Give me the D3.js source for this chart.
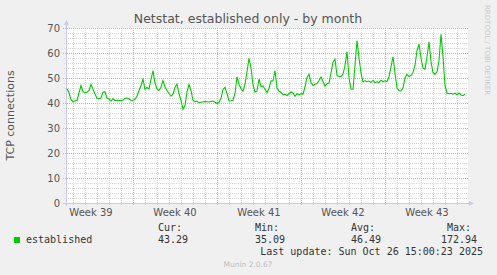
<!DOCTYPE html>
<html>
<head>
<meta charset="utf-8">
<script src="https://cdn.jsdelivr.net/npm/d3@7"></script>
<style>
  body { margin: 0; background: #F0F0F0; }
  svg { display: block; }
</style>
</head>
<body>
<div id="canvas"></div>
<script>
// values, one every 4 hours from Sep 23 12:00 (UTC)
var values = [
  45.8, 44.0, 41.3, 40.5, 40.9, 41.0, 44.0, 47.0, 44.5, 44.2,
  44.3, 45.0, 47.5, 45.5, 43.6, 41.9, 41.7, 42.0, 44.3, 44.5,
  41.9, 41.6, 40.8, 41.7, 41.0, 41.0, 41.0, 41.0, 41.2, 41.8,
  42.0, 41.7, 41.1, 41.0, 41.5, 42.8, 45.0, 47.0, 49.5, 45.5,
  46.2, 45.6, 49.5, 52.9, 48.0, 45.6, 45.0, 46.3, 49.0, 46.5,
  45.0, 43.8, 42.7, 43.5, 46.2, 47.5, 43.7, 41.0, 37.5, 39.0,
  44.5, 47.4, 45.0, 41.0, 40.5, 40.7, 40.1, 40.3, 40.5, 40.6,
  40.5, 40.4, 40.6, 40.8, 40.3, 39.8, 40.3, 41.9, 45.4, 46.3,
  43.8, 40.8, 40.9, 41.1, 43.8, 50.5, 47.5, 45.8, 44.7, 47.5,
  52.5, 57.9, 54.0, 47.3, 44.3, 44.8, 49.5, 46.6, 46.8, 45.5,
  44.2, 45.8, 48.9, 48.8, 53.0, 46.0, 44.8, 44.2, 43.3, 43.5,
  43.0, 43.7, 44.4, 44.0, 42.7, 43.7, 43.2, 43.8, 43.5, 46.5,
  50.2, 51.5, 48.2, 47.0, 47.5, 47.8, 49.0, 50.4, 48.6, 46.7,
  47.7, 48.0, 52.0, 56.3, 57.5, 51.0, 50.6, 50.6, 51.5, 55.0,
  60.5, 50.0, 45.6, 45.5, 55.0, 65.0, 58.0, 52.0, 48.5, 48.9,
  48.5, 48.8, 48.2, 49.1, 48.1, 48.5, 48.2, 49.1, 48.5, 48.9,
  48.6, 50.5, 54.5, 58.5, 52.0, 46.0, 44.9, 44.8, 46.0, 50.0,
  51.5, 50.6, 51.0, 52.2, 55.0, 61.0, 63.5, 58.0, 54.0, 53.5,
  58.5, 64.5, 56.5, 52.2, 51.4, 52.5, 57.0, 67.5, 58.5, 47.0,
  44.0, 43.7, 43.9, 43.5, 43.9, 43.3, 44.0, 43.2, 42.9, 43.5
]
var firstSample = Date.UTC(2025, 8, 23, 12)
var stepHours = 4

var weekLabels = ["Week 39", "Week 40", "Week 41", "Week 42", "Week 43"]
var weekStarts = ["2025-09-22", "2025-09-29", "2025-10-06", "2025-10-13", "2025-10-20"]
var yTicks = [0, 10, 20, 30, 40, 50, 60, 70]

var statHeads = ["Cur:", "Min:", "Avg:", "Max:"]
var statValues = ["43.29", "35.09", "46.49", "172.94"]

var W = 497, H = 275
var pL = 66, pR = 468, pT = 28, pB = 203
var lineColor = "#00CC00"

var x = d3.scaleUtc()
  .domain([new Date(Date.UTC(2025, 8, 23, 10)), new Date(Date.UTC(2025, 9, 26, 22))])
  .range([pL, pR])
var y = d3.scaleLinear().domain([0, 70]).range([pB, pT])

var svg = d3.select("#canvas").append("svg")
  .attr("width", W)
  .attr("height", H)
  .style("font-family", "'DejaVu Sans', sans-serif")

svg.append("rect").attr("width", W).attr("height", H).attr("fill", "#F0F0F0")
svg.append("rect")
  .attr("x", pL).attr("y", pT)
  .attr("width", pR - pL).attr("height", pB - pT)
  .attr("fill", "#FFFFFF")

var grid = svg.append("g").attr("shape-rendering", "crispEdges")

// minor grid
var days = d3.utcDay.range(x.domain()[0], x.domain()[1])
grid.selectAll(".vminor").data(days.filter(function (d) { return d.getUTCDay() != 1 }))
  .enter().append("line")
  .attr("x1", function (d) { return Math.round(x(d)) + .5 })
  .attr("x2", function (d) { return Math.round(x(d)) + .5 })
  .attr("y1", pT).attr("y2", pB + 2)
  .attr("stroke", "#D8D8D8").attr("stroke-dasharray", "1,1")

grid.selectAll(".hminor").data(d3.range(2, 71, 2).filter(function (v) { return v % 10 })).enter().append("line")
  .attr("x1", pL - 2).attr("x2", pR)
  .attr("y1", function (v) { return Math.round(y(v)) + .5 })
  .attr("y2", function (v) { return Math.round(y(v)) + .5 })
  .attr("stroke", "#D8D8D8").attr("stroke-dasharray", "1,1")

// major grid
var mondays = d3.utcMonday.range(x.domain()[0], x.domain()[1])
grid.selectAll(".vmajor").data(mondays).enter().append("line")
  .attr("x1", function (d) { return Math.round(x(d)) + .5 })
  .attr("x2", function (d) { return Math.round(x(d)) + .5 })
  .attr("y1", pT).attr("y2", pB + 3)
  .attr("stroke", "#E4A8A8").attr("stroke-dasharray", "1,1")

grid.selectAll(".hmajor").data(yTicks.slice(1)).enter().append("line")
  .attr("x1", pL - 3).attr("x2", pR)
  .attr("y1", function (v) { return Math.round(y(v)) + .5 })
  .attr("y2", function (v) { return Math.round(y(v)) + .5 })
  .attr("stroke", "#E4A8A8").attr("stroke-dasharray", "1,1")

// axes
var axisColor = "#C8C8F0"
grid.append("line").attr("x1", pL + .5).attr("x2", pL + .5).attr("y1", pB + 3).attr("y2", pT - 4)
  .attr("stroke", axisColor)
grid.append("line").attr("x1", pL - 3).attr("x2", pR + 2).attr("y1", pB + .5).attr("y2", pB + .5)
  .attr("stroke", axisColor)
svg.append("path").attr("d", "M" + (pL - 2) + "," + (pT - 3) + "L" + (pL + 3) + "," + (pT - 3) + "L" + (pL + .5) + "," + (pT - 8) + "Z")
  .attr("fill", axisColor)
svg.append("path").attr("d", "M" + (pR + 1) + "," + (pB - 2) + "L" + (pR + 1) + "," + (pB + 3) + "L" + (pR + 6) + "," + (pB + .5) + "Z")
  .attr("fill", axisColor)

// series line
var line = d3.line()
  .x(function (d, i) { return x(new Date(firstSample + i * stepHours * 3600000)) })
  .y(function (d) { return y(d) })
svg.append("path").datum(values)
  .attr("d", line)
  .attr("fill", "none")
  .attr("stroke", lineColor)
  .attr("stroke-width", 1.1)

// tick labels
svg.selectAll(".ylab").data(yTicks).enter().append("text")
  .attr("x", 60).attr("y", function (v) { return y(v) })
  .attr("dy", "0.36em")
  .attr("text-anchor", "end")
  .attr("font-size", "10px")
  .attr("fill", "#555")
  .text(function (v) { return v })

svg.selectAll(".xlab").data(weekLabels).enter().append("text")
  .attr("x", function (d, i) { return x(d3.utcHour.offset(new Date(weekStarts[i]), 84)) })
  .attr("y", 216)
  .attr("text-anchor", "middle")
  .attr("font-size", "10px")
  .attr("fill", "#555")
  .text(function (d) { return d })

// titles
svg.append("text").attr("x", 248).attr("y", 23)
  .attr("text-anchor", "middle").attr("font-size", "12.5px").attr("fill", "#555")
  .text("Netstat, established only - by month")

svg.append("text")
  .attr("transform", "translate(14," + ((pT + pB) / 2) + ") rotate(-90)")
  .attr("text-anchor", "middle").attr("font-size", "11px").attr("fill", "#555")
  .text("TCP connections")

svg.append("text")
  .attr("transform", "translate(485,5) rotate(90)")
  .attr("font-size", "7px").attr("fill", "#C8C8C8")
  .text("RRDTOOL / TOBI OETIKER")

// legend
var mono = "'DejaVu Sans Mono', monospace"
svg.append("rect").attr("x", 14).attr("y", 237).attr("width", 6).attr("height", 6).attr("fill", lineColor)
svg.append("text").attr("x", 26).attr("y", 243).attr("font-family", mono).attr("font-size", "10px").attr("fill", "#333")
  .text("established")

var headX = [158, 255, 351, 447]
var valX = [188, 285, 381, 477]
svg.selectAll(".head").data(statHeads).enter().append("text")
  .attr("x", function (d, i) { return headX[i] }).attr("y", 231)
  .attr("font-family", mono).attr("font-size", "10px").attr("fill", "#333")
  .text(function (d) { return d })
svg.selectAll(".val").data(statValues).enter().append("text")
  .attr("x", function (d, i) { return valX[i] }).attr("y", 243)
  .attr("text-anchor", "end")
  .attr("font-family", mono).attr("font-size", "10px").attr("fill", "#333")
  .text(function (d) { return d })

svg.append("text").attr("x", 483).attr("y", 255).attr("text-anchor", "end")
  .attr("font-family", mono).attr("font-size", "10px").attr("fill", "#333")
  .text("Last update: Sun Oct 26 15:00:23 2025")

svg.append("text").attr("x", 248).attr("y", 267).attr("text-anchor", "middle")
  .attr("font-size", "7.5px").attr("fill", "#BDBDBD")
  .text("Munin 2.0.67")
</script>
</body>
</html>
